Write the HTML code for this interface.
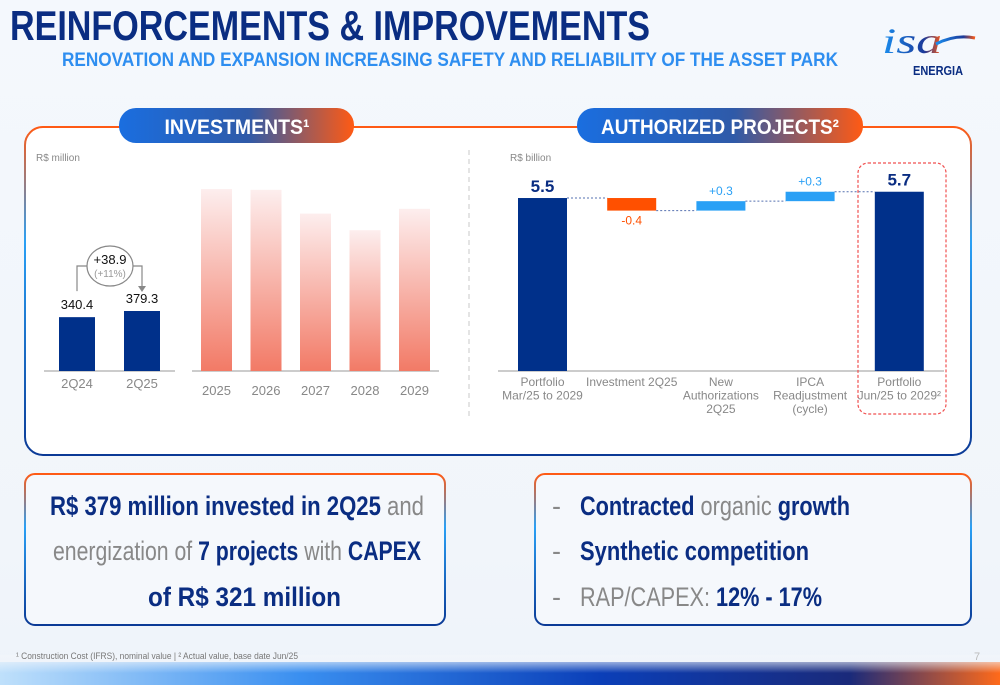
<!DOCTYPE html>
<html><head><meta charset="utf-8"><style>
html,body{margin:0;padding:0;background:#f3f7fc;}
svg{display:block;font-family:"Liberation Sans",sans-serif;}
</style></head><body>
<svg id="s" width="1000" height="685" viewBox="0 0 1000 685" xmlns="http://www.w3.org/2000/svg">
<defs>
<linearGradient id="bg" x1="0" y1="0" x2="0" y2="1"><stop offset="0" stop-color="#f4f8fd"/><stop offset="0.8" stop-color="#f1f5fa"/><stop offset="1" stop-color="#eef3fa"/></linearGradient>
<linearGradient id="pill" x1="0" y1="0" x2="1" y2="0"><stop offset="0" stop-color="#1a6ee0"/><stop offset="0.55" stop-color="#2f5aa8"/><stop offset="1" stop-color="#ff5a14"/></linearGradient>
<linearGradient id="brd" x1="0" y1="0" x2="0" y2="1"><stop offset="0" stop-color="#ff5a14"/><stop offset="0.35" stop-color="#2aa0f5"/><stop offset="1" stop-color="#0b3a96"/></linearGradient>
<linearGradient id="proj" x1="0" y1="0" x2="0" y2="1"><stop offset="0" stop-color="#fdeeee"/><stop offset="1" stop-color="#f27a66"/></linearGradient>
<linearGradient id="foot" x1="0" y1="0" x2="1" y2="0"><stop offset="0" stop-color="#bfe0fb"/><stop offset="0.3" stop-color="#3a8ff0"/><stop offset="0.6" stop-color="#0b3fb8"/><stop offset="0.85" stop-color="#1a2a7a"/><stop offset="1" stop-color="#ff6a1a"/></linearGradient>
<linearGradient id="footfade" x1="0" y1="0" x2="0" y2="1"><stop offset="0" stop-color="#f1f5fa" stop-opacity="1"/><stop offset="1" stop-color="#f1f5fa" stop-opacity="0"/></linearGradient>
<linearGradient id="logo" x1="0" y1="0" x2="1" y2="0"><stop offset="0" stop-color="#1a8ff0"/><stop offset="0.7" stop-color="#1b3a9a"/><stop offset="1" stop-color="#ff5a14"/></linearGradient>
</defs>
<rect width="1000" height="685" fill="url(#bg)"/>
<rect x="0" y="662" width="1000" height="23" fill="url(#foot)"/>
<rect x="0" y="655" width="1000" height="18" fill="url(#footfade)"/>

<text x="10" y="40" font-size="42" font-weight="bold" fill="#0a2d82" textLength="640" lengthAdjust="spacingAndGlyphs">REINFORCEMENTS &amp; IMPROVEMENTS</text>
<text x="62" y="66" font-size="19" font-weight="bold" fill="#2e8ef0" textLength="776" lengthAdjust="spacingAndGlyphs">RENOVATION AND EXPANSION INCREASING SAFETY AND RELIABILITY OF THE ASSET PARK</text>
<g>
<text x="882" y="53" font-size="36" font-style="italic" font-family="Liberation Serif,serif" fill="url(#logo)" textLength="60" lengthAdjust="spacingAndGlyphs">isa</text>
<path d="M936 44 Q955 34 975 38" stroke="url(#logo)" stroke-width="3" fill="none"/>
<text x="913" y="75" font-size="13" font-weight="bold" fill="#0a2d82" textLength="50" lengthAdjust="spacingAndGlyphs">ENERGIA</text>
</g>

<rect x="25" y="127" width="946" height="328" rx="18" fill="#ffffff" stroke="url(#brd)" stroke-width="2"/>
<line x1="469" y1="150" x2="469" y2="420" stroke="#c8c8c8" stroke-dasharray="5,4"/>

<g>
<rect x="119" y="108" width="235" height="35" rx="17" fill="url(#pill)"/>
<text x="237" y="134" font-size="21" font-weight="bold" fill="#fff" text-anchor="middle" textLength="145" lengthAdjust="spacingAndGlyphs">INVESTMENTS¹</text>
</g>
<g>
<rect x="577" y="108" width="286" height="35" rx="17" fill="url(#pill)"/>
<text x="720" y="134" font-size="21" font-weight="bold" fill="#fff" text-anchor="middle" textLength="238" lengthAdjust="spacingAndGlyphs">AUTHORIZED PROJECTS²</text>
</g>
<text x="36" y="161" font-size="10" fill="#888">R$ million</text>
<text x="510" y="161" font-size="10" fill="#888">R$ billion</text>

<g id="qChart"></g>
<g id="pChart"></g>
<g id="wChart"></g>

<g>
<rect x="25" y="474" width="420" height="151" rx="10" fill="#f5f8fc" stroke="url(#brd)" stroke-width="2"/>
<text x="50" y="515" font-size="27" fill="#888" textLength="374" lengthAdjust="spacingAndGlyphs"><tspan font-weight="bold" fill="#0a2d82">R$ 379 million invested in 2Q25</tspan> and</text>
<text x="53" y="560" font-size="27" fill="#888" textLength="368" lengthAdjust="spacingAndGlyphs">energization of <tspan font-weight="bold" fill="#0a2d82">7 projects</tspan> with <tspan font-weight="bold" fill="#0a2d82">CAPEX</tspan></text>
<text x="148" y="606" font-size="27" font-weight="bold" fill="#0a2d82" textLength="193" lengthAdjust="spacingAndGlyphs">of R$ 321 million</text>
</g>
<g>
<rect x="535" y="474" width="436" height="151" rx="10" fill="#f5f8fc" stroke="url(#brd)" stroke-width="2"/>
<text x="552" y="515" font-size="27" fill="#888">-</text>
<text x="552" y="560" font-size="27" fill="#888">-</text>
<text x="552" y="606" font-size="27" fill="#888">-</text>
<text x="580" y="515" font-size="27" fill="#888" textLength="270" lengthAdjust="spacingAndGlyphs"><tspan font-weight="bold" fill="#0a2d82">Contracted</tspan> organic <tspan font-weight="bold" fill="#0a2d82">growth</tspan></text>
<text x="580" y="560" font-size="27" font-weight="bold" fill="#0a2d82" textLength="229" lengthAdjust="spacingAndGlyphs">Synthetic competition</text>
<text x="580" y="606" font-size="27" fill="#888" textLength="242" lengthAdjust="spacingAndGlyphs">RAP/CAPEX: <tspan font-weight="bold" fill="#0a2d82">12% - 17%</tspan></text>
</g>
<text x="16" y="659" font-size="9.5" fill="#777" textLength="282" lengthAdjust="spacingAndGlyphs">¹ Construction Cost (IFRS), nominal value | ² Actual value, base date Jun/25</text>
<text x="974" y="660" font-size="11" fill="#bbb">7</text>
</svg>
<script>
const NS="http://www.w3.org/2000/svg";
const qCats=["2Q24","2Q25"];
const qVals=[340.4,379.3];
const qLabels=["340.4","379.3"];
const pCats=["2025","2026","2027","2028","2029"];
const pVals=[1150,1145,995,890,1025];
const wCats=[["Portfolio","Mar/25 to 2029"],["Investment 2Q25"],["New","Authorizations","2Q25"],["IPCA","Readjustment","(cycle)"],["Portfolio","Jun/25 to 2029²"]];
const wVals=[5.5,-0.4,0.3,0.3,5.7];
const wTypes=["total","delta","delta","delta","total"];
const wLabels=["5.5","-0.4","+0.3","+0.3","5.7"];

function mk(tag,attrs,parent,txt){const e=document.createElementNS(NS,tag);for(const k in attrs)e.setAttribute(k,attrs[k]);if(txt!==undefined)e.textContent=txt;parent.appendChild(e);return e;}
const BASE=371;

const q=document.getElementById('qChart');
const qy=v=>BASE-v*0.1582;
const qx=i=>77+i*65;
let ax=mk('line',{x1:44,y1:BASE,x2:175,y2:BASE,stroke:'#999','stroke-width':1},q);


qVals.forEach((v,i)=>{
  const r=mk('rect',{x:qx(i)-18,y:qy(v),width:36,height:BASE-qy(v),fill:'#00308a'},q);
  
  
  const t=mk('text',{x:qx(i),y:qy(v)-8,'font-size':13,'text-anchor':'middle',fill:'#111'},q,qLabels[i]);
  
  
  const c=mk('text',{x:qx(i),y:BASE+17,'font-size':13,'text-anchor':'middle',fill:'#888'},q,qCats[i]);
  
  
});
const gDiff=mk('g',{},q);


const yTop=266;
mk('path',{d:`M${qx(0)} ${qy(qVals[0])-26} V${yTop} H${qx(1)} V${qy(qVals[1])-22}`,stroke:'#888',fill:'none','stroke-width':1.2},gDiff);
mk('path',{d:`M${qx(1)-4} ${qy(qVals[1])-25} L${qx(1)+4} ${qy(qVals[1])-25} L${qx(1)} ${qy(qVals[1])-19}Z`,fill:'#888'},gDiff);
mk('ellipse',{cx:110,cy:266,rx:23,ry:20,fill:'#fff',stroke:'#888','stroke-width':1.2},gDiff);
mk('text',{x:110,y:264,'font-size':13,'text-anchor':'middle',fill:'#111'},gDiff,'+'+(qVals[1]-qVals[0]).toFixed(1));
mk('text',{x:110,y:277,'font-size':10,'text-anchor':'middle',fill:'#999'},gDiff,'(+'+Math.round((qVals[1]/qVals[0]-1)*100)+'%)');

const p=document.getElementById('pChart');
const py=v=>BASE-v*0.1582;
const px=i=>216.5+i*49.5;
ax=mk('line',{x1:192,y1:BASE,x2:439,y2:BASE,stroke:'#999','stroke-width':1},p);


pVals.forEach((v,i)=>{
  const r=mk('rect',{x:px(i)-15.5,y:py(v),width:31,height:BASE-py(v),fill:'url(#proj)'},p);
  
  
  const c=mk('text',{x:px(i),y:BASE+24,'font-size':13,'text-anchor':'middle',fill:'#888'},p,pCats[i]);
  
  
});

const w=document.getElementById('wChart');
const wy=v=>BASE-v*31.45;
const wx=i=>542.5+i*89.2;
ax=mk('line',{x1:498,y1:BASE,x2:944,y2:BASE,stroke:'#999','stroke-width':1},w);


let run=0,prevLevel=null;
wVals.forEach((v,i)=>{
  let y0,y1,fill;
  if(wTypes[i]==='total'){y0=0;y1=v;run=v;fill='#00308a';}
  else{y0=run;y1=run+v;run=y1;fill=v<0?'#ff5000':'#2aa0f5';}
  const top=wy(Math.max(y0,y1)),bot=wy(Math.min(y0,y1));
  if(prevLevel!==null){
    const l=mk('line',{x1:wx(i-1)+24.5,x2:wx(i)-24.5,y1:wy(prevLevel),y2:wy(prevLevel),stroke:'#5570b0','stroke-dasharray':'2,2','stroke-width':1},w);
    
    
  }
  prevLevel=run;
  const r=mk('rect',{x:wx(i)-24.5,y:top,width:49,height:Math.max(bot-top,1),fill:fill},w);
  
  
  let ly,lcol,fs,fw;
  if(wTypes[i]==='total'){ly=top-6;lcol='#0a2d82';fs=17;fw='bold';}
  else if(v<0){ly=bot+14;lcol='#ff5000';fs=12;fw='normal';}
  else{ly=top-6;lcol='#2aa0f5';fs=12;fw='normal';}
  const t=mk('text',{x:wx(i),y:ly,'font-size':fs,'font-weight':fw,'text-anchor':'middle',fill:lcol},w,wLabels[i]);
  
  
  wCats[i].forEach((line,j)=>{
    const c=mk('text',{x:wx(i),y:BASE+15+j*13.5,'font-size':12,'text-anchor':'middle',fill:'#888'},w,line);
    
    
  });
});
const hl=mk('rect',{x:858,y:163,width:88,height:251,rx:10,fill:'none',stroke:'#f05050','stroke-dasharray':'3,2','stroke-width':1.2},w);


</script>
</body></html>
